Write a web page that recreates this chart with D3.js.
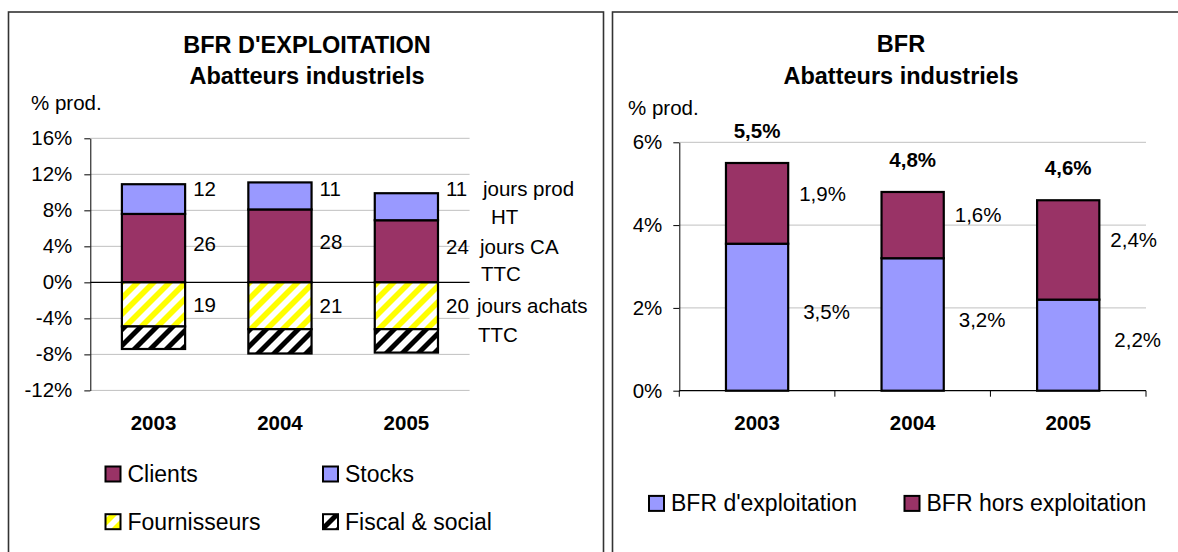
<!DOCTYPE html>
<html>
<head>
<meta charset="utf-8">
<script src="https://cdn.jsdelivr.net/npm/d3@7"></script>
<style>
  html, body { margin: 0; padding: 0; background: #fff; }
  svg text { font-family: "Liberation Sans", Arial, sans-serif; fill: #000; }
</style>
</head>
<body>
<svg id="chart" width="1178" height="552"></svg>
<script>
// ---- data ----
const years = ["2003", "2004", "2005"];

// left chart: BFR d'exploitation (% prod.)
const leftTicks = [16, 12, 8, 4, 0, -4, -8, -12];
const clients = [7.6, 8.1, 6.9];
const stocks = [3.3, 3.0, 3.0];
const fournisseurs = [-4.9, -5.2, -5.2];
const fiscalSocial = [-2.5, -2.7, -2.6];
const stocksDays = [12, 11, 11];
const clientsDays = [26, 28, 24];
const fournisseursDays = [19, 21, 20];
const dayUnits = [["jours prod", "HT"], ["jours CA", "TTC"], ["jours achats", "TTC"]];
const leftLegend = ["Clients", "Stocks", "Fournisseurs", "Fiscal & social"];

// right chart: BFR (% prod.)
const rightTicks = [0, 2, 4, 6];
const bfrExploitation = [3.55, 3.2, 2.2];
const bfrHorsExploitation = [1.95, 1.6, 2.4];
const exploitationLabels = ["3,5%", "3,2%", "2,2%"];
const horsLabels = ["1,9%", "1,6%", "2,4%"];
const totalLabels = ["5,5%", "4,8%", "4,6%"];
const rightLegend = ["BFR d'exploitation", "BFR hors exploitation"];

const purple = "#993366";
const lavender = "#9999ff";
const grid = "#c0c0c0";

const svg = d3.select("#chart");

// ---- patterns ----
const defs = svg.append("defs");
function stripes(id, color, band) {
    const p = defs.append("pattern")
        .attr("id", id)
        .attr("patternUnits", "userSpaceOnUse")
        .attr("width", 16)
        .attr("height", 16);
    p.append("rect").attr("width", 16).attr("height", 16).attr("fill", "#fff");
    p.append("path")
        .attr("d", `M0,0 L${band},0 L0,${band} Z M16,0 L16,${band} L${band},16 L0,16 Z`)
        .attr("fill", color);
}
stripes("yellowStripes", "#ffff00", 8);
stripes("blackStripes", "#000", 7);

// panel frames
svg.append("rect").attr("x", 8.5).attr("y", 12).attr("width", 595).attr("height", 580)
    .attr("fill", "none").attr("stroke", "#333").attr("stroke-width", 1.6);
svg.append("rect").attr("x", 612.5).attr("y", 12).attr("width", 620).attr("height", 580)
    .attr("fill", "none").attr("stroke", "#333").attr("stroke-width", 1.6);

function title(g, cx, lines, base) {
    lines.forEach((t, i) => {
        g.append("text")
            .attr("x", cx).attr("y", base + i * 31.5)
            .attr("text-anchor", "middle")
            .attr("font-size", "23.5px")
            .attr("font-weight", "bold")
            .text(t);
    });
}

function yAxis(g, y, x0, ticks, fmt, padding) {
    const ax = g.append("g")
        .attr("transform", `translate(${x0},0)`)
        .call(d3.axisLeft(y).tickValues(ticks).tickFormat(fmt).tickSize(6).tickSizeOuter(0).tickPadding(padding));
    ax.select(".domain").attr("stroke", "#000");
    ax.selectAll(".tick line").attr("stroke", "#000");
    ax.selectAll(".tick text").attr("font-size", "20.5px").attr("font-family", "Liberation Sans, Arial, sans-serif");
    return ax;
}

function legendItem(g, x, cy, fill, label) {
    g.append("rect")
        .attr("x", x).attr("y", cy - 7.5)
        .attr("width", 15).attr("height", 15)
        .attr("fill", fill)
        .attr("stroke", "#000").attr("stroke-width", 2);
    g.append("text")
        .attr("x", x + 22).attr("y", cy)
        .attr("dy", "0.35em")
        .attr("font-size", "23px")
        .text(label);
}

// ================= LEFT CHART =================
const left = svg.append("g");
title(left, 307, ["BFR D'EXPLOITATION", "Abatteurs industriels"], 52.5);
left.append("text").attr("x", 31).attr("y", 103).attr("dy", "0.35em")
    .attr("font-size", "20.5px").text("% prod.");

const yL = d3.scaleLinear().domain([-12, 16]).range([390.4, 138.3]);
const xL = d3.scaleBand().domain(years).range([90.3, 469.6]).paddingInner(0.5).paddingOuter(0.25);

// gridlines
left.append("g").selectAll("line")
    .data(leftTicks.filter(d => d !== 0))
    .join("line")
    .attr("x1", 90.3).attr("x2", 469.6)
    .attr("y1", d => yL(d)).attr("y2", d => yL(d))
    .attr("stroke", grid).attr("stroke-width", 1);

const rowsL = years.map((yr, i) => ({
    year: yr,
    clients: clients[i],
    stocks: stocks[i],
    fournisseurs: fournisseurs[i],
    fiscal: fiscalSocial[i]
}));
const keysL = ["clients", "stocks", "fournisseurs", "fiscal"];
const fillsL = {
    clients: purple,
    stocks: lavender,
    fournisseurs: "url(#yellowStripes)",
    fiscal: "url(#blackStripes)"
};
const stackL = d3.stack().keys(keysL).offset(d3.stackOffsetDiverging)(rowsL);

left.append("g").selectAll("g")
    .data(stackL)
    .join("g")
    .attr("fill", d => fillsL[d.key])
    .selectAll("rect")
    .data(d => d)
    .join("rect")
    .attr("x", d => xL(d.data.year))
    .attr("width", xL.bandwidth())
    .attr("y", d => yL(Math.max(d[0], d[1])))
    .attr("height", d => Math.abs(yL(d[0]) - yL(d[1])))
    .attr("stroke", "#000")
    .attr("stroke-width", 2.2);

// zero line
left.append("line")
    .attr("x1", 90.3).attr("x2", 469.6)
    .attr("y1", yL(0)).attr("y2", yL(0))
    .attr("stroke", "#000").attr("stroke-width", 1.2);

yAxis(left, yL, 90.3, leftTicks, d => d + "%", 12);

// day labels: stocks row aligned just under the tallest stack, others mid-segment
const stocksLayer = stackL.find(d => d.key === "stocks");
const stocksRowY = yL(d3.max(stocksLayer, d => d[1])) + 6;
const dayLayers = [
    { days: stocksDays, key: "stocks", y: d => stocksRowY, unitGap: 28 },
    { days: clientsDays, key: "clients", y: d => yL((d[0] + d[1]) / 2) - 4, unitGap: 27 },
    { days: fournisseursDays, key: "fournisseurs", y: d => yL((d[0] + d[1]) / 2), unitGap: 29 }
];
dayLayers.forEach(layer => {
    const s = stackL.find(d => d.key === layer.key);
    left.append("g").selectAll("text")
        .data(s)
        .join("text")
        .attr("x", d => xL(d.data.year) + xL.bandwidth() + 8)
        .attr("y", layer.y)
        .attr("dy", "0.35em")
        .attr("font-size", "20.5px")
        .text((d, i) => layer.days[i]);
});

// units beside the last bar
const lastIdx = years.length - 1;
dayUnits.forEach((u, k) => {
    const layer = dayLayers[k];
    const cy = layer.y(stackL.find(d => d.key === layer.key)[lastIdx]);
    const x0 = xL(years[lastIdx]) + xL.bandwidth() + 45 - k * 3;
    left.append("text").attr("x", x0).attr("y", cy).attr("dy", "0.35em")
        .attr("font-size", "20.5px").text(u[0]);
    left.append("text").attr("x", x0 + (k === 0 ? 8 : 1)).attr("y", cy + layer.unitGap).attr("dy", "0.35em")
        .attr("font-size", "20.5px").text(u[1]);
});

// year labels
left.append("g").selectAll("text")
    .data(years)
    .join("text")
    .attr("x", d => xL(d) + xL.bandwidth() / 2)
    .attr("y", 422.4)
    .attr("dy", "0.35em")
    .attr("text-anchor", "middle")
    .attr("font-size", "20.5px")
    .attr("font-weight", "bold")
    .text(d => d);

// legend
const legL = left.append("g");
const legFills = [purple, lavender, "url(#yellowStripes)", "url(#blackStripes)"];
leftLegend.forEach((name, i) => {
    legendItem(legL, i % 2 === 0 ? 105.5 : 323, i < 2 ? 474 : 521.7, legFills[i], name);
});

// ================= RIGHT CHART =================
const right = svg.append("g");
title(right, 901, ["BFR", "Abatteurs industriels"], 52);
right.append("text").attr("x", 628).attr("y", 108.3).attr("dy", "0.35em")
    .attr("font-size", "20.5px").text("% prod.");

const yR = d3.scaleLinear().domain([0, 6]).range([390.7, 142.3]);
const xR = d3.scaleBand().domain(years).range([679.3, 1146]).paddingInner(0.6).paddingOuter(0.3);

right.append("g").selectAll("line")
    .data(rightTicks.filter(d => d !== 0))
    .join("line")
    .attr("x1", 679.3).attr("x2", 1146)
    .attr("y1", d => yR(d)).attr("y2", d => yR(d))
    .attr("stroke", grid).attr("stroke-width", 1);

const rowsR = years.map((yr, i) => ({
    year: yr,
    expl: bfrExploitation[i],
    hors: bfrHorsExploitation[i]
}));
const stackR = d3.stack().keys(["expl", "hors"])(rowsR);
const fillsR = { expl: lavender, hors: purple };

right.append("g").selectAll("g")
    .data(stackR)
    .join("g")
    .attr("fill", d => fillsR[d.key])
    .selectAll("rect")
    .data(d => d)
    .join("rect")
    .attr("x", d => xR(d.data.year))
    .attr("width", xR.bandwidth())
    .attr("y", d => yR(d[1]))
    .attr("height", d => yR(d[0]) - yR(d[1]))
    .attr("stroke", "#000")
    .attr("stroke-width", 2.2);

// x axis with category boundary ticks
right.append("line")
    .attr("x1", 679.3).attr("x2", 1146)
    .attr("y1", yR(0)).attr("y2", yR(0))
    .attr("stroke", "#000").attr("stroke-width", 1.2);
const boundaries = d3.range(years.length + 1).map(i => 679.3 + i * (1146 - 679.3) / years.length);
right.append("g").selectAll("line")
    .data(boundaries)
    .join("line")
    .attr("x1", d => d).attr("x2", d => d)
    .attr("y1", yR(0)).attr("y2", yR(0) + 6)
    .attr("stroke", "#000");

yAxis(right, yR, 679.3, rightTicks, d => d + "%", 11);

// value labels
const labelSets = [
    { key: "expl", labels: exploitationLabels, dx: 15, shift: -5 },
    { key: "hors", labels: horsLabels, dx: 11, shift: -10 }
];
labelSets.forEach(set => {
    const s = stackR.find(d => d.key === set.key);
    right.append("g").selectAll("text")
        .data(s)
        .join("text")
        .attr("x", d => xR(d.data.year) + xR.bandwidth() + set.dx)
        .attr("y", d => yR((d[0] + d[1]) / 2) + set.shift)
        .attr("dy", "0.35em")
        .attr("font-size", "20.5px")
        .text((d, i) => set.labels[i]);
});
const topLayer = stackR[stackR.length - 1];
right.append("g").selectAll("text")
    .data(topLayer)
    .join("text")
    .attr("x", d => xR(d.data.year) + xR.bandwidth() / 2)
    .attr("y", d => yR(d[1]) - 32)
    .attr("dy", "0.35em")
    .attr("text-anchor", "middle")
    .attr("font-size", "20.5px")
    .attr("font-weight", "bold")
    .text((d, i) => totalLabels[i]);

right.append("g").selectAll("text")
    .data(years)
    .join("text")
    .attr("x", d => xR(d) + xR.bandwidth() / 2)
    .attr("y", 422.4)
    .attr("dy", "0.35em")
    .attr("text-anchor", "middle")
    .attr("font-size", "20.5px")
    .attr("font-weight", "bold")
    .text(d => d);

const legR = right.append("g");
legendItem(legR, 649, 503.4, lavender, rightLegend[0]);
legendItem(legR, 904.5, 503.4, purple, rightLegend[1]);
</script>
</body>
</html>
